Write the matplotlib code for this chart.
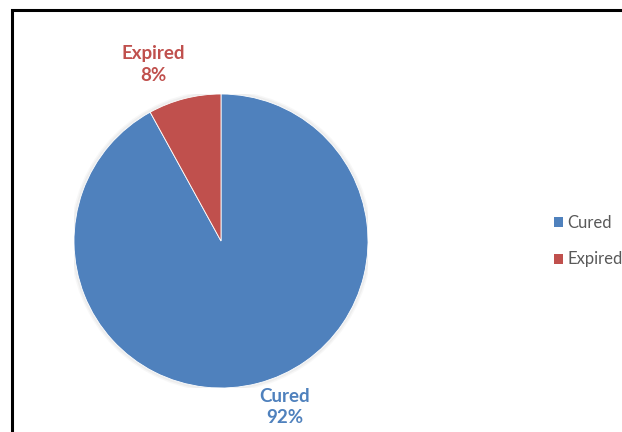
import matplotlib.pyplot as plt
from matplotlib.patches import Rectangle, Patch, Circle

plt.rcParams['font.family'] = ['Lato', 'DejaVu Sans']

labels = ['Cured', 'Expired']
values = [92, 8]
colors = ['#4F81BD', '#C0504D']
label_pos = [(0.435, -1.13), (-0.463, 1.2)]

fig = plt.figure(figsize=(6.22, 4.32), dpi=100)

# chart border, right and bottom edges fall outside the picture
fig.patches.append(Rectangle((12 / 622, -0.05), 1.0, 1 - 10 / 432 + 0.05,
                             transform=fig.transFigure, fill=False,
                             edgecolor='black', linewidth=2.2, zorder=10))

ax = fig.add_axes([74 / 622, 44 / 432, 294 / 622, 294 / 432])
# soft shadow around the pie
for r, a in [(1.025, 0.06), (1.015, 0.08)]:
    ax.add_patch(Circle((0, 0), r, color='gray', alpha=a, lw=0, zorder=0))
wedges, _ = ax.pie(values, colors=colors, startangle=90, counterclock=False,
                   radius=1, wedgeprops=dict(edgecolor='white', linewidth=0.6))
ax.set_xlim(-1, 1)
ax.set_ylim(-1, 1)
ax.set_aspect('equal')
ax.axis('off')

for lab, val, col, (x, y) in zip(labels, values, colors, label_pos):
    ax.text(x, y, f'{lab}\n{val}%', color=col, fontsize=13.5, fontweight='bold',
            ha='center', va='center', linespacing=1.3, clip_on=False)

handles = [Patch(facecolor=c, edgecolor='none') for c in colors]
fig.legend(handles, labels, loc='center left', bbox_to_anchor=(539 / 622, 1 - 241 / 432),
           frameon=False, fontsize=12, labelcolor='#595959', handlelength=0.55,
           handleheight=0.55, handletextpad=0.25, labelspacing=1.25)

fig.savefig('out.png', dpi=100)
